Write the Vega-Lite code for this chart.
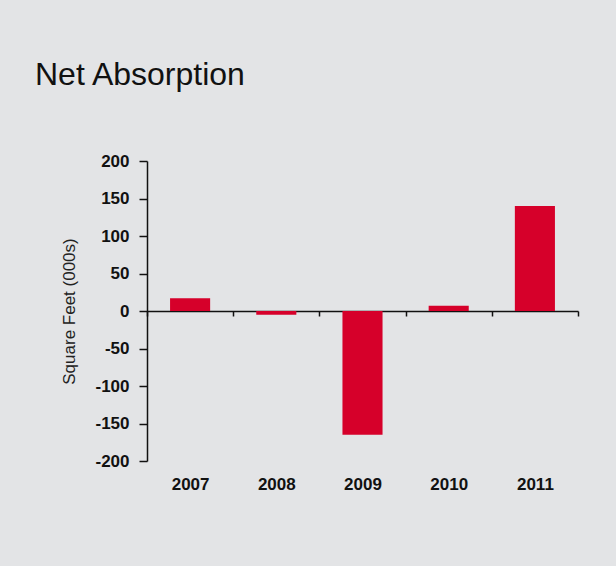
{
  "$schema": "https://vega.github.io/schema/vega-lite/v6.json",
  "autosize": {"type": "none"},
  "padding": {"left": 147, "top": 161, "right": 38, "bottom": 105},
  "width": 431,
  "height": 300,
  "background": "#e3e4e6",
  "title": {
    "text": "Net Absorption",
    "anchor": "start",
    "frame": "group",
    "font": "Liberation Sans",
    "fontSize": 32,
    "fontWeight": "normal",
    "color": "#111111",
    "baseline": "alphabetic",
    "dx": -112,
    "offset": 35
  },
  "data": {
    "values": [
      {"year": "2007", "absorption": 17},
      {"year": "2008", "absorption": -5},
      {"year": "2009", "absorption": -165},
      {"year": "2010", "absorption": 7},
      {"year": "2011", "absorption": 140}
    ]
  },
  "mark": {"type": "bar", "color": "#d6002a", "width": {"band": 0.465}},
  "encoding": {
    "x": {
      "field": "year",
      "type": "nominal",
      "sort": null,
      "scale": {"paddingInner": 0, "paddingOuter": 0},
      "axis": {
        "title": null,
        "orient": "bottom",
        "offset": -150,
        "labelAngle": 0,
        "domainColor": "#111111",
        "domainWidth": 1.5,
        "tickColor": "#111111",
        "tickWidth": 1.5,
        "tickSize": 5,
        "tickBand": "extent",
        "labelPadding": 160,
        "labelFont": "Liberation Sans",
        "labelFontWeight": "bold",
        "labelFontSize": 17,
        "labelColor": "#111111"
      }
    },
    "y": {
      "field": "absorption",
      "type": "quantitative",
      "scale": {"domain": [-200, 200], "nice": false, "zero": false},
      "axis": {
        "title": "Square Feet (000s)",
        "titleFont": "Liberation Sans",
        "titleFontSize": 17,
        "titleFontWeight": "normal",
        "titleColor": "#222222",
        "titlePadding": 16,
        "values": [-200, -150, -100, -50, 0, 50, 100, 150, 200],
        "labelExpr": "datum.value < 0 ? '-' + abs(datum.value) : '' + datum.value",
        "grid": false,
        "domainColor": "#111111",
        "domainWidth": 1.5,
        "tickColor": "#111111",
        "tickWidth": 1.5,
        "tickSize": 8,
        "labelPadding": 10,
        "labelFont": "Liberation Sans",
        "labelFontWeight": "bold",
        "labelFontSize": 17,
        "labelColor": "#111111"
      }
    }
  },
  "config": {"view": {"stroke": null}}
}
